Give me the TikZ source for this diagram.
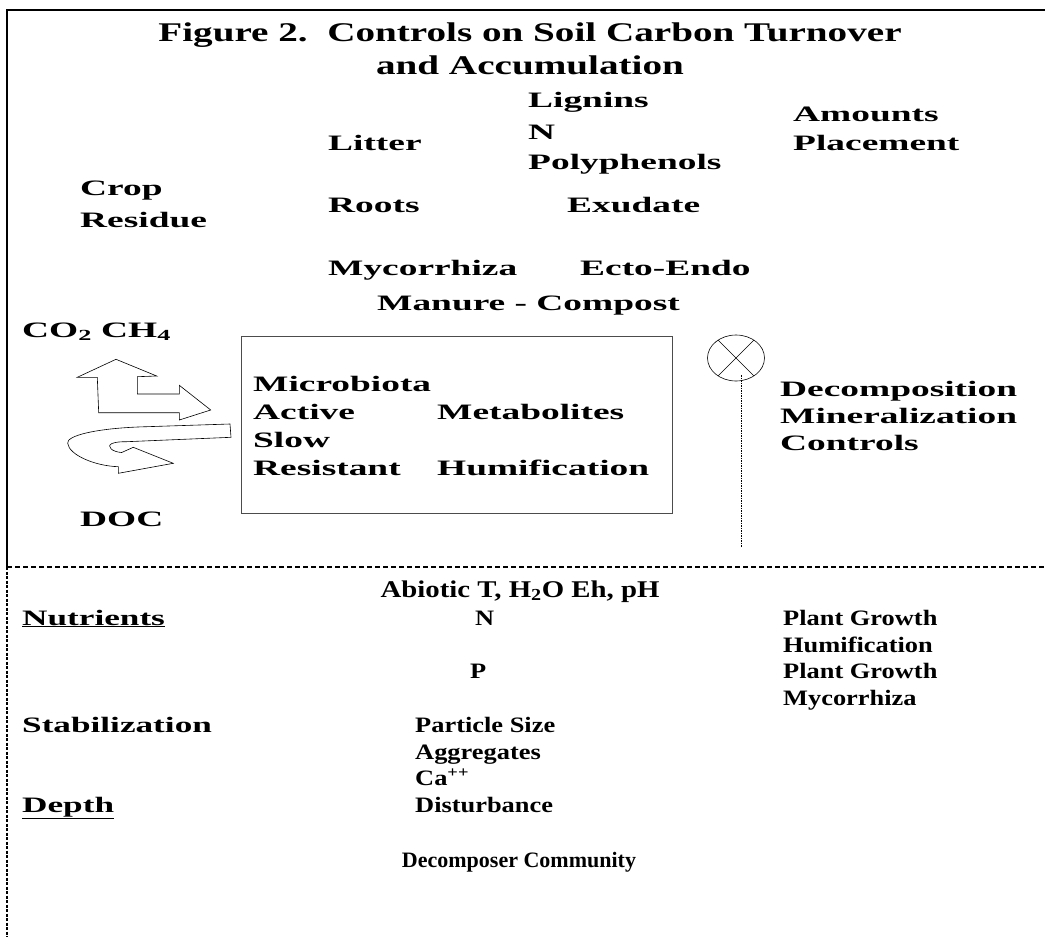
\documentclass[tikz,border=0pt]{standalone}
\usepackage{fontspec}
\setmainfont{Liberation Serif}
\newfontfamily\headfont{Liberation Serif}[FakeStretch=1.45]
\newfontfamily\upperfont{Liberation Serif}[FakeStretch=1.7]
\newfontfamily\sidefont{Liberation Serif}[FakeStretch=1.6]
\newfontfamily\lowerfont{Liberation Serif}[FakeStretch=1.2]
\usetikzlibrary{shapes.geometric}
\tikzset{>=stealth}
\tikzset{
  headlabel/.style={anchor=base,inner sep=0pt,font=\headfont\bfseries\fontsize{27}{32}\selectfont},
  uplabel/.style={anchor=base west,inner sep=0pt,font=\upperfont\bfseries\fontsize{22}{26}\selectfont},
  sidelabel/.style={anchor=base west,inner sep=0pt,font=\sidefont\bfseries\fontsize{22}{26}\selectfont},
  lowlabel/.style={anchor=base west,inner sep=0pt,font=\lowerfont\bfseries\fontsize{22}{26}\selectfont},
  plainlabel/.style={anchor=base,inner sep=0pt,font=\bfseries\fontsize{22}{26}\selectfont},
  bigarrow/.style={draw=black,fill=white,line width=0.6pt,line join=miter},
}

\begin{document}
\begin{tikzpicture}[x=1pt,y=-1pt]
    \useasboundingbox (0,0) rectangle (1045,937);
    % frame
    \draw[line width=2.5pt] (7,567) -- (7,10) -- (1045,10);
    \draw[line width=1.5pt,dash pattern=on 5pt off 3pt] (7,567) -- (1045,567);
    \draw[line width=2pt,dash pattern=on 3pt off 1.5pt] (7,567) -- (7,937);
    % title
    \node[headlabel] (title) at (530,41) {Figure 2.\ \ Controls on Soil Carbon Turnover};
    \node[headlabel] (subtitle) at (530,74) {and Accumulation};
    % inputs
    \node[uplabel] (lignins) at (528,107) {Lignins};
    \node[uplabel] (nitrogen) at (528,139) {N};
    \node[uplabel] (polyphenols) at (528,169) {Polyphenols};
    \node[uplabel] (litter) at (328,150) {Litter};
    \node[uplabel] (amounts) at (793,121) {Amounts};
    \node[uplabel] (placement) at (793,150) {Placement};
    \node[uplabel] (crop) at (80,195) {Crop};
    \node[uplabel] (residue) at (80,227) {Residue};
    \node[uplabel] (roots) at (328,212) {Roots};
    \node[uplabel] (exudate) at (567,212) {Exudate};
    \node[uplabel] (mycorrhiza) at (328,275) {Mycorrhiza};
    \node[uplabel] (ectoendo) at (580,275) {Ecto-Endo};
    \node[uplabel] (manure) at (377,310) {Manure - Compost};
    \node[uplabel] (gases) at (22,337) {CO\textsubscript{2} CH\textsubscript{4}};
    \node[uplabel] (doc) at (80,526) {DOC};
    % soil pools
    \node[draw=black!70,line width=0.8pt,inner sep=0pt,minimum width=431pt,minimum height=177pt] (pool) at (456.5,424.5) {};
    \node[uplabel] (microbiota) at (253,391) {Microbiota};
    \node[uplabel] (active) at (253,419) {Active};
    \node[uplabel] (metabolites) at (437,419) {Metabolites};
    \node[uplabel] (slow) at (253,447) {Slow};
    \node[uplabel] (resistant) at (253,475) {Resistant};
    \node[uplabel] (humification) at (437,475) {Humification};
    % bent arrow
    \draw[bigarrow] (77.3,377.3) -- (116,359.3) -- (156.7,376) -- (137.3,376.7) -- (137.3,394)
      -- (179.3,394) -- (179.3,385.3) -- (210.7,410) -- (179.3,420) -- (179.3,412.7)
      -- (98.7,412.7) -- (97.3,377.3) -- cycle;
    % u-turn arrow
    \draw[bigarrow] (230,424) -- (146.7,426.7)
      .. controls (95,428) and (66,436) .. (67.7,443.3)
      .. controls (69,455) and (95,466) .. (118.3,466.7)
      -- (118.3,473.3) -- (173.3,463.3) -- (133.3,447.3) -- (121.7,452.5)
      .. controls (112,452) and (106,446) .. (112,443.5)
      .. controls (116,442) and (120,441.7) .. (126.7,441.7)
      -- (231,437.3) -- cycle;
    % controls
    \node[draw,ellipse,line width=0.6pt,minimum width=57pt,minimum height=46pt,inner sep=0pt] (mixer) at (736,358) {};
    \draw[line width=0.6pt] (mixer.45) -- (mixer.225);
    \draw[line width=0.6pt] (mixer.135) -- (mixer.315);
    \coordinate (probetop) at (741,375);
    \coordinate (probeend) at (741,547);
    \draw[line width=1pt,dash pattern=on 1.5pt off 1pt] (probetop) -- (probeend);
    \node[uplabel] (decomposition) at (780,396) {Decomposition};
    \node[uplabel] (mineralization) at (780,423) {Mineralization};
    \node[uplabel] (controls) at (780,450) {Controls};
    % abiotic part
    \node[lowlabel,anchor=base,font=\lowerfont\bfseries\fontsize{24}{28}\selectfont] (abiotic) at (520,597) {Abiotic T, H\textsubscript{2}O Eh, pH};
    \node[sidelabel] (nutrients) at (22,625) {\underline{Nutrients}};
    \node[lowlabel] (nut_n) at (475,625) {N};
    \node[lowlabel] (growth_n) at (783,625) {Plant Growth};
    \node[lowlabel] (humif_n) at (783,652) {Humification};
    \node[lowlabel] (nut_p) at (470,678) {P};
    \node[lowlabel] (growth_p) at (783,678) {Plant Growth};
    \node[lowlabel] (mycor_p) at (783,705) {Mycorrhiza};
    \node[sidelabel] (stabilization) at (22,732) {Stabilization};
    \node[lowlabel] (particle) at (415,732) {Particle Size};
    \node[lowlabel] (aggregates) at (415,759) {Aggregates};
    \node[lowlabel] (calcium) at (415,785) {Ca\textsuperscript{++}};
    \node[sidelabel] (depth) at (22,812) {\underline{Depth}};
    \node[lowlabel] (disturbance) at (415,812) {Disturbance};
    \node[plainlabel] (community) at (519,867) {Decomposer Community};
\end{tikzpicture}
\end{document}
